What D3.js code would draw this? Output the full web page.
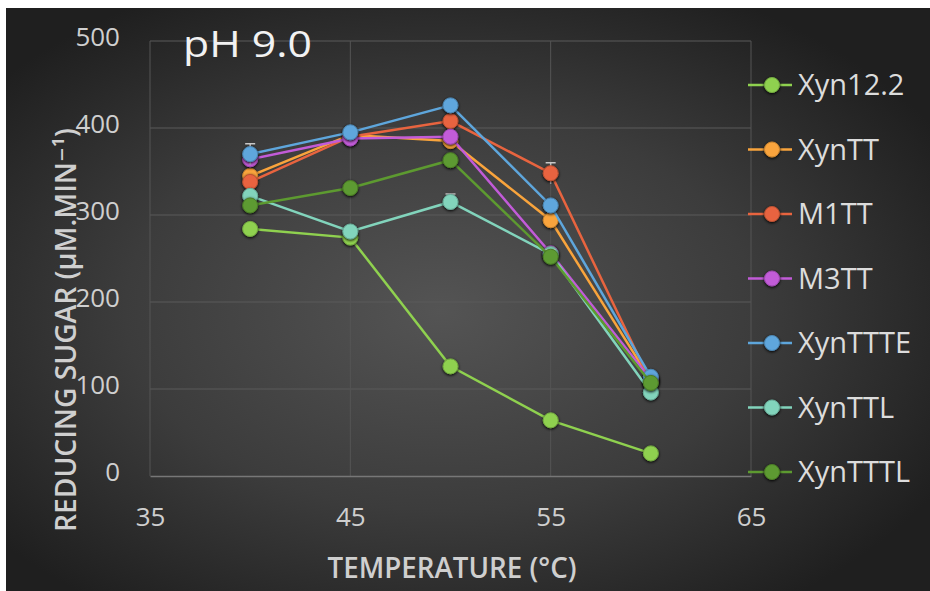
<!DOCTYPE html>
<html>
<head>
<meta charset="utf-8">
<script src="https://cdn.jsdelivr.net/npm/d3@7"></script>
<style>
  html, body { margin: 0; padding: 0; background: #ffffff; }
  svg { display: block; }
</style>
</head>
<body>
<script>
// temperatures (°C)
var temps = [40, 45, 50, 55, 60];

var seriesNames = ["Xyn12.2", "XynTT", "M1TT", "M3TT", "XynTTTE", "XynTTL", "XynTTTL"];
var seriesColors = ["#8fd14f", "#f9a43c", "#e8643f", "#c25bd8", "#5ea6dc", "#82d4bc", "#5d9a30"];

// reducing sugar (µM/min) per series, in the order of seriesNames
var xyn122 = [284, 274, 126, 64, 26];
var xynTT = [345, 392, 385, 294, 110];
var m1TT = [338, 390, 408, 348, 108];
var m3TT = [364, 388, 390, 256, 111];
var xynTTTE = [370, 395, 426, 311, 114];
var xynTTL = [322, 281, 315, 255, 96];
var xynTTTL = [311, 331, 363, 252, 107];
var seriesValues = [xyn122, xynTT, m1TT, m3TT, xynTTTE, xynTTL, xynTTTL];

// error bars (same order)
var errXyn122 = [3, 3, 4, 3, 2];
var errXynTT = [5, 5, 6, 6, 4];
var errM1TT = [5, 5, 6, 12, 4];
var errM3TT = [5, 4, 6, 6, 4];
var errXynTTTE = [12, 6, 6, 6, 4];
var errXynTTL = [5, 5, 9, 6, 4];
var errXynTTTL = [4, 4, 5, 8, 4];
var seriesErrors = [errXyn122, errXynTT, errM1TT, errM3TT, errXynTTTE, errXynTTL, errXynTTTL];

var xTicks = [35, 45, 55, 65];
var yTicks = [0, 100, 200, 300, 400, 500];

var width = 930, height = 591;
var font = "'Open Sans', 'DejaVu Sans', sans-serif";

var svg = d3.select("body").append("svg")
	.attr("width", width)
	.attr("height", height);

// dark radial background
var defs = svg.append("defs");
var grad = defs.append("radialGradient")
	.attr("id", "bg")
	.attr("cx", "0.47").attr("cy", "0.52").attr("r", "0.62");
grad.append("stop").attr("offset", "0%").attr("stop-color", "#545454");
grad.append("stop").attr("offset", "55%").attr("stop-color", "#3c3c3c");
grad.append("stop").attr("offset", "100%").attr("stop-color", "#1f1f1f");

var glow = defs.append("filter").attr("id", "glow")
	.attr("x", "-50%").attr("y", "-50%").attr("width", "200%").attr("height", "200%");
glow.append("feGaussianBlur").attr("in", "SourceAlpha").attr("stdDeviation", 1.6).attr("result", "b");
glow.append("feOffset").attr("in", "b").attr("dx", 0).attr("dy", 1).attr("result", "o");
var merge = glow.append("feMerge");
merge.append("feMergeNode").attr("in", "o");
merge.append("feMergeNode").attr("in", "SourceGraphic");

svg.append("rect")
	.attr("x", 6).attr("y", 8)
	.attr("width", width - 6).attr("height", height - 8)
	.style("fill", "url(#bg)");

// scales
var x = d3.scaleLinear().domain([35, 65]).range([150, 751]);
var y = d3.scaleLinear().domain([0, 500]).range([476, 41]);

// grid
svg.append("g").selectAll("line.h")
	.data(yTicks.slice(1))
	.enter().append("line")
		.attr("x1", x(35)).attr("x2", x(65))
		.attr("y1", function(d) { return y(d); })
		.attr("y2", function(d) { return y(d); })
		.style("stroke", "#5a5a5a")
		.style("stroke-width", 1);

svg.append("g").selectAll("line.v")
	.data(xTicks)
	.enter().append("line")
		.attr("x1", function(d) { return x(d); })
		.attr("x2", function(d) { return x(d); })
		.attr("y1", y(500)).attr("y2", y(0))
		.style("stroke", "#555555")
		.style("stroke-width", 1);

// axes
var yAxis = svg.append("g")
	.attr("transform", "translate(" + x(35) + ",-4)")
	.call(d3.axisLeft(y).tickValues(yTicks).tickSize(0).tickPadding(30));
yAxis.select(".domain").remove();

var xAxis = svg.append("g")
	.attr("transform", "translate(0," + y(0) + ")")
	.call(d3.axisBottom(x).tickValues(xTicks).tickSize(0).tickPadding(32));
xAxis.select(".domain")
	.style("stroke", "#777777")
	.style("stroke-width", 1.5);

svg.selectAll(".tick text")
	.style("font-family", font)
	.style("font-size", "26px")
	.style("fill", "#cfcfcf");

// axis titles
svg.append("text")
	.attr("x", 452).attr("y", 578)
	.attr("text-anchor", "middle")
	.attr("textLength", 249)
	.attr("lengthAdjust", "spacingAndGlyphs")
		.style("font-family", font)
		.style("font-size", "28px")
		.style("font-weight", 600)
		.style("fill", "#cfcfcf")
	.text("TEMPERATURE (°C)");

svg.append("text")
	.attr("transform", "translate(76,330) rotate(-90)")
	.attr("text-anchor", "middle")
	.attr("textLength", 404)
	.attr("lengthAdjust", "spacingAndGlyphs")
		.style("font-family", font)
		.style("font-size", "28px")
		.style("font-weight", 600)
		.style("fill", "#cfcfcf")
	.text("REDUCING SUGAR (µM.MIN⁻¹)");

// title
svg.append("text")
	.attr("x", 183).attr("y", 57)
	.attr("textLength", 129)
	.attr("lengthAdjust", "spacingAndGlyphs")
		.style("font-family", font)
		.style("font-size", "36px")
		.style("fill", "#f2f2f2")
	.text("pH 9.0");

// series
var line = d3.line()
	.x(function(d) { return x(d.t); })
	.y(function(d) { return y(d.v); });

seriesNames.forEach(function(name, i) {
	var pts = temps.map(function(t, j) {
		return { t: t, v: seriesValues[i][j], e: seriesErrors[i][j] };
	});
	var g = svg.append("g");

	g.selectAll("line.err")
		.data(pts)
		.enter().append("path")
			.attr("d", function(d) {
				var cx = x(d.t), top = y(d.v + d.e), bot = y(d.v - d.e);
				return "M" + cx + "," + bot + "V" + top + "M" + (cx - 5) + "," + top + "H" + (cx + 5);
			})
			.style("fill", "none")
			.style("stroke", "#c8c8c8")
			.style("stroke-width", 1.5);

	g.append("path")
		.datum(pts)
		.attr("d", line)
			.style("fill", "none")
			.style("stroke", seriesColors[i])
			.style("stroke-width", 2.5);

	g.selectAll("circle")
		.data(pts)
		.enter().append("circle")
			.attr("cx", function(d) { return x(d.t); })
			.attr("cy", function(d) { return y(d.v); })
			.attr("r", 7.5)
			.attr("filter", "url(#glow)")
				.style("fill", seriesColors[i])
				.style("stroke", d3.color(seriesColors[i]).darker(0.6))
				.style("stroke-width", 1);
});

// legend
var legend = svg.append("g").selectAll("g")
	.data(seriesNames)
	.enter().append("g")
		.attr("transform", function(d, i) { return "translate(772," + (85 + i * 64.5) + ")"; });

legend.append("line")
	.attr("x1", -24).attr("x2", 20)
		.style("stroke", function(d, i) { return seriesColors[i]; })
		.style("stroke-width", 2.5);

legend.append("circle")
	.attr("r", 7.5)
	.attr("filter", "url(#glow)")
		.style("fill", function(d, i) { return seriesColors[i]; })
		.style("stroke", function(d, i) { return d3.color(seriesColors[i]).darker(0.6); })
		.style("stroke-width", 1);

legend.append("text")
	.attr("x", 26)
	.attr("dy", "0.36em")
		.style("font-family", font)
		.style("font-size", "29px")
		.style("fill", "#dcdcdc")
	.text(function(d) { return d; });
</script>
</body>
</html>
